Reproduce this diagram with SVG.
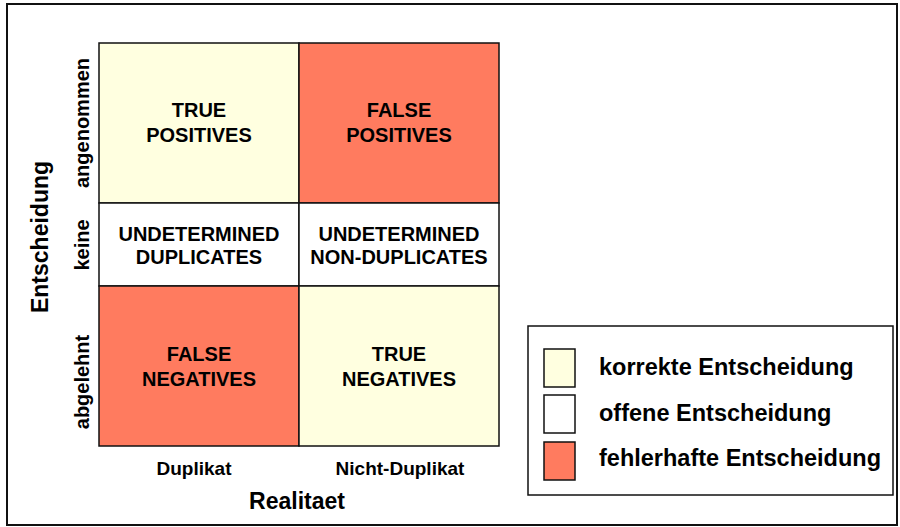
<svg xmlns="http://www.w3.org/2000/svg" width="900" height="527" viewBox="0 0 900 527">
<style>
text{font-family:"Liberation Sans",Arial,sans-serif;font-weight:bold;fill:#000}
.cell{font-size:20px;text-anchor:middle}
.rl{font-size:20px;text-anchor:middle}
.leg{font-size:23.5px}
.box{stroke:#111;stroke-width:1.5}
.ok{fill:#FFFFE0}
.open{fill:#FFFFFF}
.err{fill:#FF7B5F}
</style>
<rect x="0" y="0" width="900" height="527" fill="#fff"/>
<rect x="7" y="4" width="890" height="521" fill="#fff" stroke="#111" stroke-width="2"/>
<g id="tp"><rect class="box ok" x="99" y="43" width="200" height="160"/><text class="cell" x="199" y="117">TRUE</text><text class="cell" x="199" y="142">POSITIVES</text></g>
<g id="fp"><rect class="box err" x="299" y="43" width="200" height="160"/><text class="cell" x="399" y="117">FALSE</text><text class="cell" x="399" y="142">POSITIVES</text></g>
<g id="ud"><rect class="box open" x="99" y="203" width="200" height="83"/><text class="cell" x="199" y="240.5">UNDETERMINED</text><text class="cell" x="199" y="264">DUPLICATES</text></g>
<g id="un"><rect class="box open" x="299" y="203" width="200" height="83"/><text class="cell" x="399" y="240.5">UNDETERMINED</text><text class="cell" x="399" y="264">NON-DUPLICATES</text></g>
<g id="fn"><rect class="box err" x="99" y="286" width="200" height="160"/><text class="cell" x="199" y="361">FALSE</text><text class="cell" x="199" y="386">NEGATIVES</text></g>
<g id="tn"><rect class="box ok" x="299" y="286" width="200" height="160"/><text class="cell" x="399" y="361">TRUE</text><text class="cell" x="399" y="386">NEGATIVES</text></g>
<g id="axis-y">
<text x="48" y="237" font-size="23" text-anchor="middle" transform="rotate(-90 48 237)">Entscheidung</text>
<text class="rl" x="89" y="123" transform="rotate(-90 89 123)">angenommen</text>
<text class="rl" x="89" y="245" transform="rotate(-90 89 245)">keine</text>
<text class="rl" x="89" y="382" transform="rotate(-90 89 382)">abgelehnt</text>
</g>
<g id="axis-x">
<text x="194" y="475" font-size="19" text-anchor="middle">Duplikat</text>
<text x="400" y="475" font-size="19" text-anchor="middle">Nicht-Duplikat</text>
<text x="297" y="509" font-size="23" text-anchor="middle">Realitaet</text>
</g>
<g id="legend">
<rect x="528" y="326" width="365" height="169" fill="#fff" stroke="#111" stroke-width="1.5"/>
<rect class="box ok" x="544" y="349" width="31" height="38"/>
<rect class="box open" x="544" y="395" width="31" height="38"/>
<rect class="box err" x="544" y="442" width="31" height="38"/>
<text class="leg" x="599" y="375">korrekte Entscheidung</text>
<text class="leg" x="599" y="420.5">offene Entscheidung</text>
<text class="leg" x="599" y="466">fehlerhafte Entscheidung</text>
</g>
</svg>
